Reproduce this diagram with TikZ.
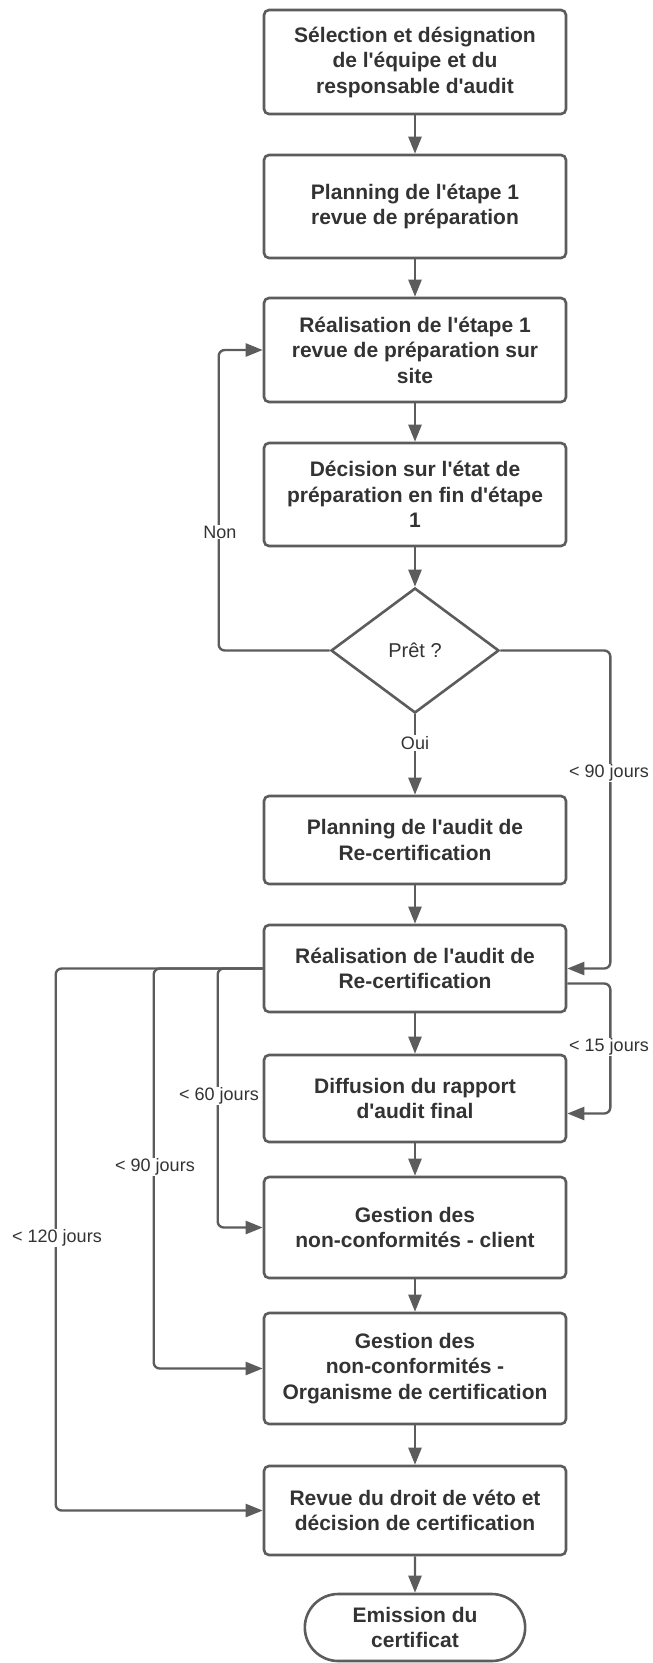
\documentclass[tikz,border=0pt]{standalone}
\usepackage{fontspec}
\newfontfamily\lib{Liberation Sans}
\usetikzlibrary{arrows.meta}
\usetikzlibrary{shapes.geometric}
\usetikzlibrary{shapes.misc}
\definecolor{trait}{HTML}{5C5C5C}
\definecolor{texte}{HTML}{333333}
\tikzset{>={Triangle[length=17pt,width=13pt]}}
\tikzset{
  etape/.style={draw=trait, line width=2.6pt, rounded corners=5pt, fill=white,
    minimum width=302pt, align=center, text=texte,
    font=\lib\fontsize{21}{25.5}\selectfont\bfseries},
  choix/.style={draw=trait, diamond, line width=2.6pt, minimum width=168pt,
    minimum height=125pt, inner sep=0pt, text=texte,
    font=\lib\fontsize{20}{24}\selectfont},
  fin/.style={draw=trait, rounded rectangle, line width=2.6pt, minimum width=227pt,
    minimum height=67pt, align=center, text=texte,
    font=\lib\fontsize{21}{25}\selectfont\bfseries},
  fleche/.style={->, draw=trait, line width=2.4pt, rounded corners=6pt},
  delai/.style={fill=white, text=texte, inner sep=1pt,
    font=\lib\fontsize{18}{22}\selectfont},
}

\begin{document}
\begin{tikzpicture}[x=1pt, y=-1pt]

    \useasboundingbox (0,0) rectangle (653,1663);

    % etapes
    \node[etape, minimum height=104pt] (sel) at (415,62) {S\'election et d\'esignation\\de l'\'equipe et du\\responsable d'audit};
    \node[etape, minimum height=103pt] (plan1) at (415,206.5) {Planning de l'\'etape 1\\revue de pr\'eparation};
    \node[etape, minimum height=104pt] (real1) at (415,350) {R\'ealisation de l'\'etape 1\\revue de pr\'eparation sur\\site};
    \node[etape, minimum height=103pt] (deci) at (415,494.5) {D\'ecision sur l'\'etat de\\pr\'eparation en fin d'\'etape\\1};
    \node[choix] (pret) at (415,650.5) {Pr\^et ?};
    \node[etape, minimum height=88pt] (plan2) at (415,840) {Planning de l'audit de\\Re-certification};
    \node[etape, minimum height=87pt] (real2) at (415,968.5) {R\'ealisation de l'audit de\\Re-certification};
    \node[etape, minimum height=87pt] (diff) at (415,1098.5) {Diffusion du rapport\\d'audit final};
    \node[etape, minimum height=101pt] (ncClient) at (415,1227.5) {Gestion des\\non-conformit\'es - client};
    \node[etape, minimum height=111pt] (ncOrg) at (415,1368.5) {Gestion des\\non-conformit\'es -\\Organisme de certification};
    \node[etape, minimum height=89pt] (revue) at (415,1510.5) {Revue du droit de v\'eto et\\d\'ecision de certification};
    \node[fin] (emis) at (415,1627.5) {Emission du\\certificat};

    % fleches principales
    \draw[fleche] (sel) -- (plan1);
    \draw[fleche] (plan1) -- (real1);
    \draw[fleche] (real1) -- (deci);
    \draw[fleche] (deci) -- (pret);
    \draw[fleche] (pret) -- (plan2);
    \draw[fleche] (plan2) -- (real2);
    \draw[fleche] (real2) -- (diff);
    \draw[fleche] (diff) -- (ncClient);
    \draw[fleche] (ncClient) -- (ncOrg);
    \draw[fleche] (ncOrg) -- (revue);
    \draw[fleche] (revue) -- (emis);

    % boucles et delais
    \draw[fleche] (pret.west) -| ([xshift=-44pt]real1.west) -- (real1.west);
    \draw[fleche] (pret.east) -| ([xshift=43pt]real2.east) -- (real2.east);
    \draw[fleche] ([yshift=-15pt]real2.east) -- ++(43,0) |- ([yshift=-15pt]diff.east);
    \draw[fleche] (real2.west) -| ([xshift=-45pt]ncClient.west) -- (ncClient.west);
    \draw[fleche] (real2.west) -| ([xshift=-109pt]ncOrg.west) -- (ncOrg.west);
    \draw[fleche] (real2.west) -| ([xshift=-207pt]revue.west) -- (revue.west);

    \node[delai] (tNon) at (220,532) {Non};
    \node[delai] (tOui) at (415,743) {Oui};
    \node[delai] (t90d) at (609,773) {< 90 jours};
    \node[delai] (t15) at (609,1047) {< 15 jours};
    \node[delai] (t60) at (219,1096) {< 60 jours};
    \node[delai] (t90g) at (155,1167) {< 90 jours};
    \node[delai] (t120) at (57,1238) {< 120 jours};

\end{tikzpicture}
\end{document}
